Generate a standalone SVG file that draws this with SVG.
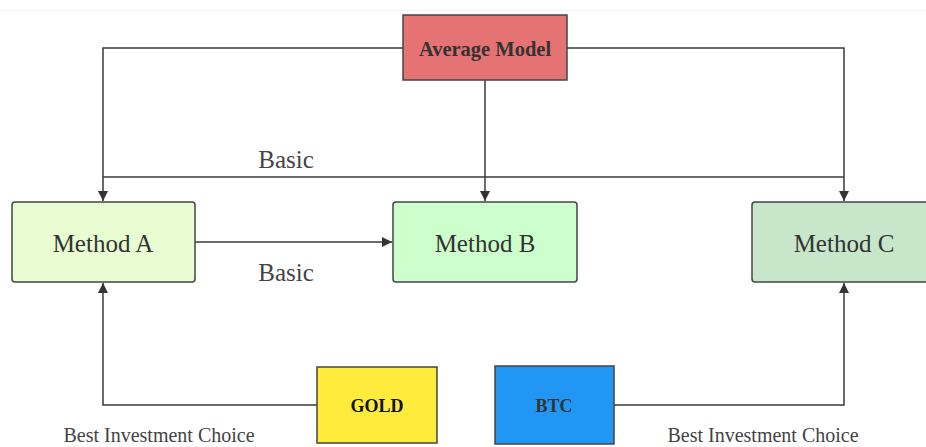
<svg xmlns="http://www.w3.org/2000/svg" width="926" height="447" viewBox="0 0 926 447">
<style>
.node{stroke:#444;stroke-width:1.5}
.edge{fill:none;stroke:#3a3a3a;stroke-width:1.5}
.t{font-family:"Liberation Serif","Times New Roman",serif;fill:#333;text-anchor:middle;dominant-baseline:central}
.m{font-size:25px}
.b{font-weight:bold}
.lbl{font-family:"Liberation Serif","Times New Roman",serif;fill:#444;text-anchor:middle}
</style>
<defs>
<marker id="arr" viewBox="0 0 10 10" refX="10" refY="5" markerWidth="10" markerHeight="10" markerUnits="userSpaceOnUse" orient="auto">
<path d="M0,0 L10,5 L0,10 z" fill="#333"/>
</marker>
</defs>
<rect width="926" height="447" fill="#fff"/>
<line x1="0" y1="10.5" x2="926" y2="10.5" stroke="#f3f3f3" stroke-width="1"/>
<g id="connectors">
<path class="edge" d="M403,48 H103 V201" marker-end="url(#arr)"/>
<path class="edge" d="M567,48 H844 V201" marker-end="url(#arr)"/>
<path class="edge" d="M485,80 V201" marker-end="url(#arr)"/>
<path class="edge" d="M103,177 H844"/>
<path class="edge" d="M195,242 H392" marker-end="url(#arr)"/>
<path class="edge" d="M317,405 H103 V283" marker-end="url(#arr)"/>
<path class="edge" d="M614,405 H844 V283" marker-end="url(#arr)"/>
<text class="lbl" x="286" y="168" font-size="25">Basic</text>
<text class="lbl" x="286" y="281" font-size="25">Basic</text>
<text class="lbl" x="159" y="442" font-size="20">Best Investment Choice</text>
<text class="lbl" x="763" y="442" font-size="20">Best Investment Choice</text>
</g>
<g id="average-model">
<rect class="node" x="403" y="15" width="164" height="65" fill="#e57373"/>
<text class="t b" x="485" y="49" font-size="20.5">Average Model</text>
</g>
<g id="method-a">
<rect class="node" x="12" y="202" width="183" height="80" rx="3" fill="#e8fdd2"/>
<text class="t m" x="103" y="243">Method A</text>
</g>
<g id="method-b">
<rect class="node" x="393" y="202" width="184" height="80" rx="3" fill="#ccffcc"/>
<text class="t m" x="485" y="243">Method B</text>
</g>
<g id="method-c">
<rect class="node" x="752" y="202" width="184" height="80" rx="3" fill="#c8e6c9"/>
<text class="t m" x="844" y="243">Method C</text>
</g>
<g id="gold">
<rect class="node" x="317" y="367" width="120" height="76" fill="#ffeb3b"/>
<text class="t b" x="377" y="406" font-size="18" style="fill:#111">GOLD</text>
</g>
<g id="btc">
<rect class="node" x="495" y="366" width="119" height="78" fill="#2196f3"/>
<text class="t b" x="554" y="406" font-size="18">BTC</text>
</g>
</svg>
